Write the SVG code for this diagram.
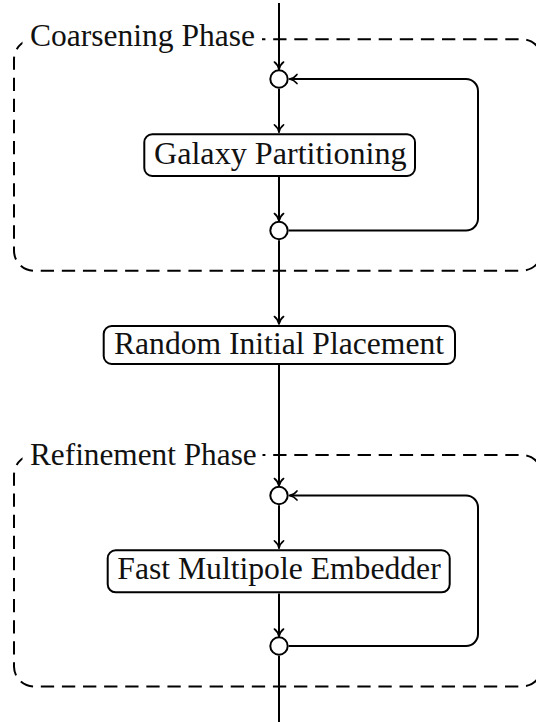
<svg xmlns="http://www.w3.org/2000/svg" width="536" height="722" viewBox="0 0 536 722">
  <style>
    .phase { fill: none; stroke: #000; stroke-width: 2; stroke-dasharray: 13.3 7.8; stroke-dashoffset: 14; }
    .lblbg { fill: #fff; stroke: none; }
    .lbl { font-family: 'Liberation Serif', 'Times New Roman', serif; font-size: 31.5px; fill: #111; }
    .box { fill: #fff; stroke: #000; stroke-width: 2; }
    .join { fill: #fff; stroke: #000; stroke-width: 2; }
    .edge { fill: none; stroke: #000; stroke-width: 2; }
    .txt { font-family: 'Liberation Serif', 'Times New Roman', serif; font-size: 31.5px; fill: #111; text-anchor: middle; }
  </style>
  <defs>
    <marker id="tip" viewBox="-9 -6 10 12" refX="0" refY="0" markerWidth="10" markerHeight="12" markerUnits="userSpaceOnUse" orient="auto" overflow="visible">
      <path d="M -7.5,-4.6 C -5.5,-2 -2,-0.4 0,0 C -2,0.4 -5.5,2 -7.5,4.6" fill="none" stroke="#000" stroke-width="1.6" stroke-linecap="round" stroke-linejoin="round"/>
    </marker>
  </defs>

  <!-- phase frames -->
  <g id="coarsening-phase">
    <path class="phase" d="M34,39.3 H522 A20,20 0 0 1 542,59.3 V250.7 A20,20 0 0 1 522,270.7 H34 A20,20 0 0 1 14,250.7 V59.3 A20,20 0 0 1 34,39.3 Z"/>
    <rect class="lblbg" x="22.5" y="22" width="239.5" height="34"/>
    <text class="lbl" x="30" y="46" textLength="225" lengthAdjust="spacingAndGlyphs">Coarsening Phase</text>
  </g>
  <g id="refinement-phase">
    <path class="phase" d="M34,455 H522 A20,20 0 0 1 542,475 V666.5 A20,20 0 0 1 522,686.5 H34 A20,20 0 0 1 14,666.5 V475 A20,20 0 0 1 34,455 Z"/>
    <rect class="lblbg" x="22.5" y="438" width="240" height="32"/>
    <text class="lbl" x="30" y="465" textLength="226.7" lengthAdjust="spacingAndGlyphs">Refinement Phase</text>
  </g>

  <!-- connectors -->
  <g id="connectors">
    <path class="edge" d="M279,3 V69.5" marker-end="url(#tip)"/>
    <path class="edge" d="M279,88.7 V132.3" marker-end="url(#tip)"/>
    <path class="edge" d="M279,177 V221" marker-end="url(#tip)"/>
    <path class="edge" d="M288.7,230.5 H466 A12,12 0 0 0 478,218.5 V91 A12,12 0 0 0 466,79 H289.5" marker-end="url(#tip)"/>
    <path class="edge" d="M279,240.2 V324" marker-end="url(#tip)"/>
    <path class="edge" d="M279,365 V486" marker-end="url(#tip)"/>
    <path class="edge" d="M279,505.2 V548.3" marker-end="url(#tip)"/>
    <path class="edge" d="M279,593.5 V636.5" marker-end="url(#tip)"/>
    <path class="edge" d="M288.7,646 H466 A12,12 0 0 0 478,634 V507.5 A12,12 0 0 0 466,495.5 H289.5" marker-end="url(#tip)"/>
    <path class="edge" d="M279,655.7 V722"/>
  </g>

  <!-- junction points -->
  <g id="coarsen-in"><circle class="join" cx="279" cy="79" r="8.7"/></g>
  <g id="coarsen-out"><circle class="join" cx="279" cy="230.5" r="8.7"/></g>
  <g id="refine-in"><circle class="join" cx="279" cy="495.5" r="8.7"/></g>
  <g id="refine-out"><circle class="join" cx="279" cy="646" r="8.7"/></g>

  <!-- process steps -->
  <g id="galaxy-partitioning">
    <rect class="box" x="144.3" y="134.3" width="270.7" height="41.7" rx="8"/>
    <text class="txt" x="280.3" y="163.5" textLength="252.7" lengthAdjust="spacingAndGlyphs">Galaxy Partitioning</text>
  </g>
  <g id="random-initial-placement">
    <rect class="box" x="103.7" y="326" width="351.3" height="38" rx="8"/>
    <text class="txt" x="279" y="354" textLength="330" lengthAdjust="spacingAndGlyphs">Random Initial Placement</text>
  </g>
  <g id="fast-multipole-embedder">
    <rect class="box" x="107.7" y="550.3" width="342" height="42" rx="8"/>
    <text class="txt" x="279" y="578.5" textLength="323.4" lengthAdjust="spacingAndGlyphs">Fast Multipole Embedder</text>
  </g>
</svg>
